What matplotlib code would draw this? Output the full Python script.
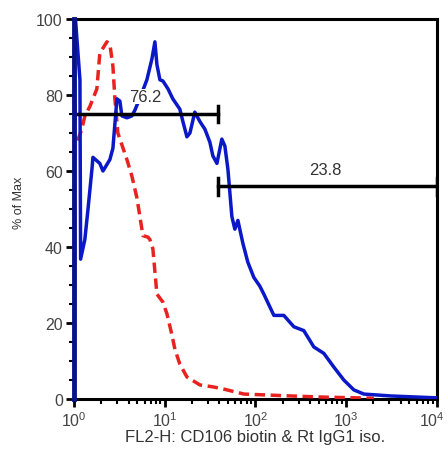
import numpy as np
import matplotlib.pyplot as plt
import matplotlib.transforms as mtransforms
from matplotlib.ticker import MultipleLocator, LogLocator, NullFormatter

plt.rcParams['font.family'] = ['Liberation Sans', 'DejaVu Sans']
plt.rcParams['mathtext.fontset'] = 'custom'
plt.rcParams['mathtext.rm'] = 'Liberation Sans'
plt.rcParams['mathtext.it'] = 'Liberation Sans'

# CD106 biotin histogram (blue), % of max
blue_x = [1.0, 1.0, 1.04, 1.165, 1.185, 1.32, 1.43, 1.58, 1.62, 1.93, 2.09, 2.49, 2.69,
          2.98, 3.21, 3.38, 3.84, 4.35, 4.70, 5.5, 6.37, 7.24, 7.81, 8.22, 8.87, 9.57,
          10.9, 12.3, 14.7, 15.9, 17.6, 19.0, 21.5, 24.5, 27.8, 31.5, 34.0, 37.7, 42.7,
          46.1, 49.8, 55.1, 59.4, 64.2, 72.8, 82.6, 96.2, 112, 124, 160, 206, 266, 342,
          441, 569, 733, 944, 1217, 1570, 3112, 10000]
blue_y = [0, 100, 100, 84, 36.8, 42, 50, 60.5, 63.6, 62, 60, 63, 66,
          79, 78.4, 74.5, 74, 74.5, 76, 80, 84, 89.5, 94, 88, 84, 83.7,
          81.6, 79, 76.3, 73, 69, 70, 75.5, 73, 71, 67.6, 64, 62, 68.4,
          66.6, 60.5, 48, 44.7, 47, 41, 36, 32, 29.7, 27.6, 22, 22, 19, 18,
          13.7, 12, 8.4, 5, 2.4, 1.3, 0.8, 0.3]

# Rt IgG1 isotype control (red, dashed)
red_x = [1.1, 1.22, 1.32, 1.50, 1.79, 1.93, 2.31, 2.49, 2.69, 2.83, 3.05, 3.84, 4.35,
         4.94, 5.34, 5.76, 6.54, 6.87, 7.42, 8.22, 9.57, 10.6, 12.0, 13.0, 14.7, 17.6,
         24.5, 34.0, 45.0, 74.8, 246, 569, 2023]
red_y = [68, 71, 74.5, 77, 81.6, 91, 94, 93.4, 87.6, 79, 70, 63, 58.7,
         53, 48, 43, 42.6, 42, 39.5, 27.6, 25.5, 22.4, 17, 13, 9.2, 5.8,
         3.7, 3.2, 2.6, 1.3, 0.8, 0.5, 0.2]

# gates: (start, end, level, label, label_x, label_y)
gates = [(1.0, 38.6, 75, "76.2", 6.2, 79.7),
         (38.6, 10000, 56, "23.8", 583, 60.5)]

xtick_pos = [1, 10, 100, 1000, 10000]
xtick_lab = [r'$10^0$', r'$10^1$', r'$10^2$', r'$10^3$', r'$10^4$']

fig = plt.figure(figsize=(4.48, 4.56), dpi=100)
ax = fig.add_axes([0.165, 0.1228, 0.81, 0.8333])

ax.plot(red_x, red_y, color='#e8231f', lw=2.5, ls=(0, (3, 1.6)), zorder=3)
ax.plot(blue_x, blue_y, color='#0a18c8', lw=2.5, zorder=4)
ax.plot([1, 1], [0, 100], color='#08128a', lw=3.5, zorder=6, clip_on=False)

for x0, x1, lev, lab, lx, ly in gates:
    ax.plot([x0, x1], [lev, lev], color='black', lw=2.5, zorder=5)
    ax.plot([x0, x0], [lev - 2.2, lev + 2.2], color='black', lw=2.5, zorder=5)
    ax.plot([x1, x1], [lev - 2.2, lev + 2.2], color='black', lw=2.5, zorder=5)
    ax.text(lx, ly, lab, ha='center', va='center', fontsize=12, color='#333333',
            bbox=dict(facecolor='white', edgecolor='none', pad=0), zorder=4.5)

ax.set_xscale('log')
ax.set_xlim(1, 10000)
ax.set_ylim(0, 100)
ax.set_xticks(xtick_pos)
ax.set_xticklabels(xtick_lab)
ax.xaxis.set_minor_locator(LogLocator(base=10, subs=np.arange(2, 10)))
ax.xaxis.set_minor_formatter(NullFormatter())
ax.yaxis.set_major_locator(MultipleLocator(20))
ax.yaxis.set_minor_locator(MultipleLocator(5))

for s in ax.spines.values():
    s.set_linewidth(2.2)
ax.tick_params(which='major', length=6, width=2, labelsize=11.5, labelcolor='#444444', pad=2)
ax.tick_params(which='minor', length=3.5, width=1.5)

# last tick label sits at the figure edge; nudge it inward a little
last = ax.get_xticklabels()[-1]
last.set_transform(last.get_transform() +
                   mtransforms.ScaledTranslation(-5 / 100, 0, fig.dpi_scale_trans))

ax.set_xlabel('FL2-H: CD106 biotin & Rt IgG1 iso.', fontsize=12, color='#333333', labelpad=0)
ax.set_ylabel('% of Max', fontsize=9, color='#333333', labelpad=4)
ax.yaxis.set_label_coords(-0.135, 0.52)

fig.savefig('out.png', dpi=100)
